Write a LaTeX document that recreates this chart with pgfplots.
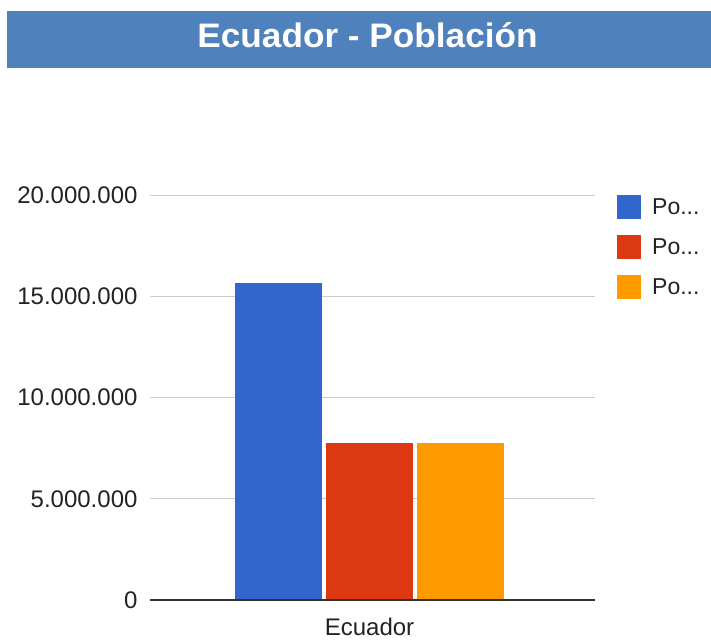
\documentclass[border=0pt]{standalone}
\usepackage{pgfplots}
\pgfplotsset{compat=1.18}
\usepackage{fontspec}
\setmainfont{Liberation Sans}
\definecolor{titlebar}{HTML}{4F81BD}
\definecolor{cblue}{HTML}{3366CC}
\definecolor{cred}{HTML}{DC3912}
\definecolor{corange}{HTML}{FF9900}
\definecolor{gridc}{HTML}{CCCCCC}
\definecolor{basec}{HTML}{333333}
\definecolor{textc}{HTML}{222222}
\begin{document}
\begin{tikzpicture}
\useasboundingbox (0pt,0pt) rectangle (711pt,-640pt);
\fill[titlebar] (7pt,-11pt) rectangle (711pt,-68pt);
\node[text=white,font=\fontsize{34}{40}\selectfont\bfseries,anchor=base,xscale=1.035,inner sep=0pt] at (367.5pt,-47.5pt) {Ecuador - Población};
\begin{axis}[
  at={(150pt,-600pt)}, anchor=south west,
  width=445pt, height=405pt, scale only axis,
  ybar=4pt, bar width=87pt,
  xmin=-0.9865, xmax=1.0135, ymin=0, ymax=20000000,
  xtick={0}, xticklabels={Ecuador},
  ytick={0,5000000,10000000,15000000,20000000},
  scaled y ticks=false,
  /pgf/number format/.cd, fixed, 1000 sep={.}, assume math mode=true,
  /pgfplots/.cd,
  axis line style={draw=none},
  major tick length=0pt,
  ymajorgrids, grid style={gridc, line width=1pt},
  ticklabel style={font=\fontsize{24}{28}\selectfont, text=textc},
  yticklabel style={xshift=-9pt},
  xticklabel style={anchor=base, yshift=-35pt, inner sep=0pt},
  legend style={at={(1,1)}, anchor=north west, xshift=22pt, yshift=0pt, draw=none,
    fill=none, inner sep=0pt, font=\fontsize{23}{27}\selectfont, text=textc,
    row sep=16pt, column sep=9pt, cells={anchor=west}},
  legend image code/.code={\fill[#1,draw=none] (0pt,-12pt) rectangle (24pt,12pt);},
]
\addplot[fill=cblue, draw=none] coordinates {(0,15650000)};
\addlegendentry{Po...}
\addplot[fill=cred, draw=none] coordinates {(0,7760000)};
\addlegendentry{Po...}
\addplot[fill=corange, draw=none] coordinates {(0,7760000)};
\addlegendentry{Po...}
\draw[basec, line width=1.5pt] (axis cs:-0.9865,0) -- (axis cs:1.0135,0);
\end{axis}
\end{tikzpicture}
\end{document}
